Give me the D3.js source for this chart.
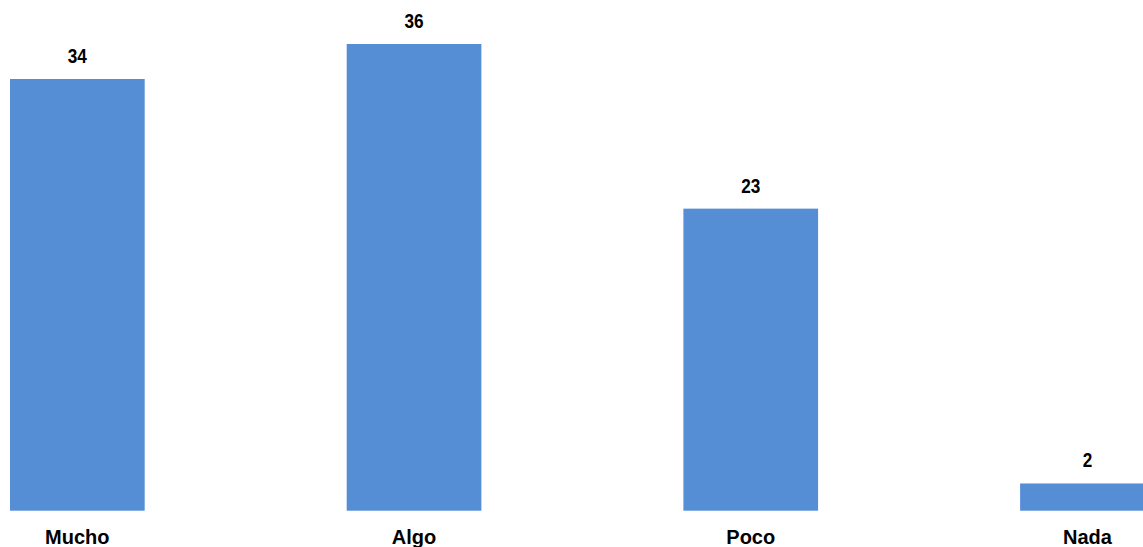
<!DOCTYPE html>
<html>
<head>
<meta charset="utf-8">
<script src="https://cdn.jsdelivr.net/npm/d3@7"></script>
<style>
  html, body { margin: 0; padding: 0; background: #ffffff; overflow: hidden; }
  svg { display: block; }
</style>
</head>
<body>
<svg id="chart" width="1143" height="547"></svg>
<script>
// Categories and values (bar heights)
const categories = ["Mucho", "Algo", "Poco", "Nada"];
const values = [33.3, 36, 23.3, 2.1];
// Data labels as printed on the chart
const dataLabels = ["34", "36", "23", "2"];

const W = 1143, H = 547;
const svg = d3.select("#chart");

const baseline = 510.7;
const step = 336.7;
const x = d3.scaleBand()
  .domain(categories)
  .range([10 - 0.3 * step, 10 - 0.3 * step + step * 4])
  .paddingInner(0.6)
  .paddingOuter(0.3);

const y = d3.scaleLinear()
  .domain([0, 36])
  .range([baseline, 44]);

const color = "#558ED5";

svg.selectAll("rect.bar")
  .data(values)
  .join("rect")
  .attr("class", "bar")
  .attr("x", (d, i) => x(categories[i]))
  .attr("y", d => y(d))
  .attr("width", x.bandwidth())
  .attr("height", d => y(0) - y(d))
  .attr("fill", color);

svg.selectAll("text.val")
  .data(values)
  .join("text")
  .attr("class", "val")
  .attr("transform", (d, i) => `translate(${x(categories[i]) + x.bandwidth() / 2}, ${y(d) - 16}) scale(0.86, 1.04)`)
  .attr("text-anchor", "middle")
  .attr("font-family", "'Liberation Sans Narrow', 'Arial Narrow', 'Liberation Sans', Arial, sans-serif")
  .attr("font-weight", "bold")
  .attr("font-size", 20)
  .attr("fill", "#000")
  .text((d, i) => dataLabels[i]);

const xAxis = d3.axisBottom(x).tickSize(0).tickPadding(0);
const gx = svg.append("g")
  .attr("transform", `translate(0, ${baseline})`)
  .call(xAxis);
gx.select(".domain").remove();
gx.selectAll("text")
  .attr("dy", null)
  .attr("y", 33.3)
  .attr("font-family", "'Liberation Sans', Arial, sans-serif")
  .attr("font-weight", "bold")
  .attr("font-size", 20)
  .attr("fill", "#000");
</script>
</body>
</html>
